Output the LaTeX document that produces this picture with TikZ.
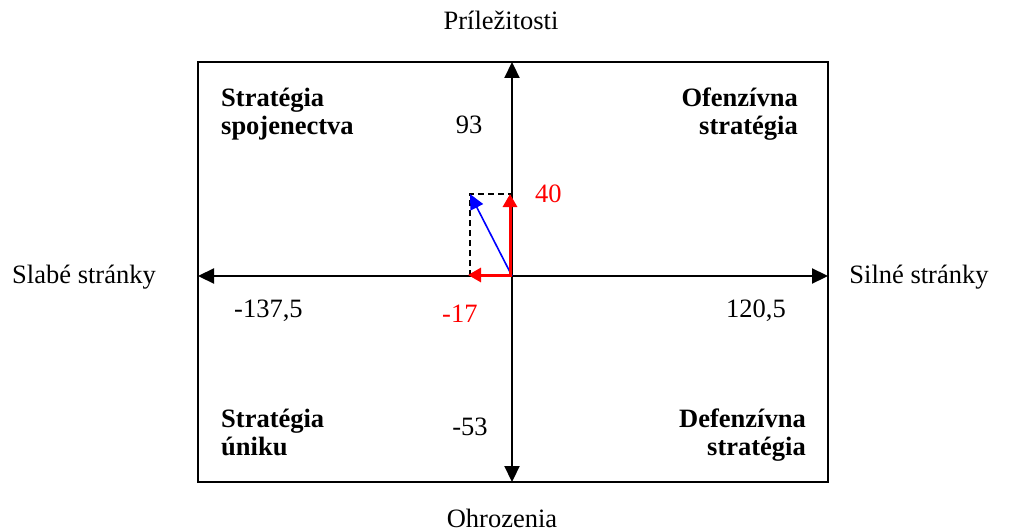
\documentclass[tikz,border=0pt]{standalone}
\usepackage{fontspec}
\setmainfont{Liberation Serif}
\usetikzlibrary{arrows.meta}
\begin{document}
\begin{tikzpicture}[x=1pt,y=-1pt,
  lbl/.style={inner sep=0pt,font=\fontsize{26.5}{28}\selectfont},
  blbl/.style={lbl,font=\fontsize{26.5}{28}\selectfont\bfseries},
  redlbl/.style={lbl,text=red},
  axis/.style={line width=2.2pt,{Triangle[length=16pt,width=15pt]}-{Triangle[length=16pt,width=15pt]}},
  redvec/.style={line width=3pt,red,-{Triangle[length=13pt,width=14pt]}},
  bluevec/.style={line width=1.6pt,blue,-{Triangle[length=15pt,width=14pt]}},
  helper/.style={line width=1.6pt,dash pattern=on 6pt off 4pt}]
\useasboundingbox (0,0) rectangle (1011,532);
\draw[line width=2pt] (198,62) rectangle (828,482);
\coordinate (L) at (198,276);
\coordinate (R) at (828,276);
\coordinate (T) at (512,62);
\coordinate (B) at (512,482);
\coordinate (O) at (512,276);
\coordinate (Oy) at (510,276);
\coordinate (Ox) at (512,275);
\coordinate (Y) at (510,194);
\coordinate (X) at (468,275);
\coordinate (P) at (470,194);
\coordinate (Px) at (470,276);
\coordinate (Py) at (512,194);
\draw[axis] (L) -- (R);
\draw[axis] (T) -- (B);
\draw[helper] (Px) -- (P) -- (Py);
\draw[bluevec] (O) -- (P);
\draw[redvec] (Oy) -- (Y);
\draw[redvec] (Ox) -- (X);
\node[lbl,anchor=base] (pr) at (501,30) {Príležitosti};
\node[lbl,anchor=base] (oh) at (502,527) {Ohrozenia};
\node[lbl,anchor=base] (sl) at (84,283) {Slabé stránky};
\node[lbl,anchor=base] (si) at (919,283) {Silné stránky};
\node[blbl,anchor=base west,align=left] (sp) at (221,134) {Stratégia\\spojenectva};
\node[blbl,anchor=base east,align=right] (of) at (798,134) {Ofenzívna\\stratégia};
\node[blbl,anchor=base west,align=left] (un) at (221,455) {Stratégia\\úniku};
\node[blbl,anchor=base east,align=right] (de) at (806,455) {Defenzívna\\stratégia};
\node[lbl,anchor=base] (n93) at (469,133) {93};
\node[lbl,anchor=base] (n53) at (470,435) {-53};
\node[lbl,anchor=base west] (n137) at (234,317) {-137,5};
\node[lbl,anchor=base west] (n120) at (726,317) {120,5};
\node[redlbl,anchor=base west] (n40) at (535,202) {40};
\node[redlbl,anchor=base west] (n17) at (442,322) {-17};
\end{tikzpicture}
\end{document}
